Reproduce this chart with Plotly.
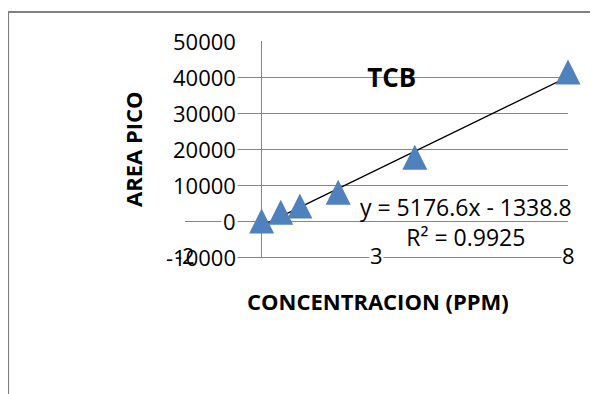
import plotly.graph_objects as go

# ---- data ----
conc_ppm = [0, 0.5, 1, 2, 4, 8]
area_pico = [0, 2400, 4200, 8000, 17700, 41400]
trend_slope = 5176.6
trend_intercept = -1338.8
trend_x = [0, 8]
equation_text = "y = 5176.6x - 1338.8<br>R² = 0.9925"
y_ticks = [-10000, 0, 10000, 20000, 30000, 40000, 50000]
x_ticks = [-2, 3, 8]
title_text = "TCB"
x_title = "CONCENTRACION (PPM)"
y_title = "AREA PICO"

# ---- layout constants (page has an 8px body margin) ----
OFF = 8
W, H = 598 - OFF, 394 - OFF
PLOT_L, PLOT_R, PLOT_T, PLOT_B = 185.4, 568, 40.7, 256.7   # in window pixels
ML = round(PLOT_L - OFF)
MT = round(PLOT_T - OFF)
MR = W - round(PLOT_R - OFF)
MB = H - round(PLOT_B - OFF)
PW, PH = W - ML - MR, H - MT - MB
X_RANGE = [-2, 8]
Y_RANGE = [-10000, 50000]
MARKER = 25
GRID = "#868686"
BLUE = "#4F81BD"
FRAME = "#808080"
FONT = "Open Sans"

def px_x(p):
    return (p - OFF - ML) / PW

def px_y(p):
    return (H - MB - (p - OFF)) / PH

# offset so the triangle (apex-anchored symbol) is centred on the point
d = (MARKER / 2) * (Y_RANGE[1] - Y_RANGE[0]) / PH

trend_y = [trend_slope * x + trend_intercept for x in trend_x]

fig = go.Figure()
fig.add_trace(go.Scatter(x=trend_x, y=trend_y, mode="lines",
                         line=dict(color="black", width=1.3),
                         showlegend=False, hoverinfo="skip"))
fig.add_trace(go.Scatter(x=conc_ppm, y=area_pico, mode="markers", yaxis="y2",
                         marker=dict(symbol="arrow-up", size=MARKER, color=BLUE,
                                     line=dict(width=0)),
                         cliponaxis=False, showlegend=False))

annotations = []
for v in y_ticks:
    annotations.append(dict(x=0, y=v, xref="x", yref="y", text=f"{v}",
                            xanchor="right", yanchor="middle", xshift=-24,
                            showarrow=False, bgcolor="white", borderpad=1,
                            font=dict(family=FONT, size=22, color="black")))
for v in x_ticks:
    annotations.append(dict(x=v, y=Y_RANGE[0], xref="x", yref="y", text=f"{v}",
                            xanchor="center", yanchor="middle", yshift=2,
                            showarrow=False,
                            bgcolor="white" if v != X_RANGE[0] else "rgba(0,0,0,0)",
                            borderpad=0,
                            font=dict(family=FONT, size=22, color="black")))
annotations.append(dict(x=px_x(465.5), y=px_y(222), xref="paper", yref="paper",
                        text=equation_text, showarrow=False, align="center",
                        xanchor="center", yanchor="middle",
                        font=dict(family=FONT, size=23, color="black")))
annotations.append(dict(x=px_x(377.5), y=px_y(301), xref="paper", yref="paper",
                        text=f"<b>{x_title}</b>", showarrow=False,
                        xanchor="center", yanchor="middle",
                        font=dict(family=FONT, size=22, color="black")))
annotations.append(dict(x=px_x(133), y=px_y(149), xref="paper", yref="paper",
                        text=f"<b>{y_title}</b>", showarrow=False, textangle=-90,
                        xanchor="center", yanchor="middle",
                        font=dict(family=FONT, size=22, color="black")))

fig.update_layout(
    width=W, height=H,
    margin=dict(l=ML, r=MR, t=MT, b=MB, pad=0),
    paper_bgcolor="white", plot_bgcolor="white",
    title=dict(text=f"<b>{title_text}</b>", x=(391.7 - OFF) / W,
               y=1 - (78 - OFF) / H, xanchor="center", yanchor="middle",
               font=dict(family=FONT, size=26, color="black")),
    xaxis=dict(range=X_RANGE, showgrid=False, showticklabels=False, ticks="",
               zeroline=True, zerolinecolor=GRID, zerolinewidth=1,
               showline=True, linecolor=GRID, linewidth=1, fixedrange=True),
    yaxis=dict(range=Y_RANGE, dtick=10000, showgrid=True, gridcolor=GRID,
               gridwidth=1, showticklabels=False, ticks="", zeroline=False,
               showline=False, fixedrange=True),
    yaxis2=dict(range=[Y_RANGE[0] - d, Y_RANGE[1] - d], overlaying="y",
                visible=False, fixedrange=True),
    annotations=annotations,
    shapes=[
        dict(type="line", xref="paper", yref="paper",
             x0=px_x(7.4), x1=px_x(597), y0=px_y(12.0), y1=px_y(12.0),
             line=dict(color=FRAME, width=2), layer="above"),
        dict(type="line", xref="paper", yref="paper",
             x0=px_x(8.2), x1=px_x(8.2), y0=px_y(11.2), y1=px_y(394),
             line=dict(color=FRAME, width=1.8), layer="above"),
    ],
    showlegend=False,
)

fig.write_html("out.html")
